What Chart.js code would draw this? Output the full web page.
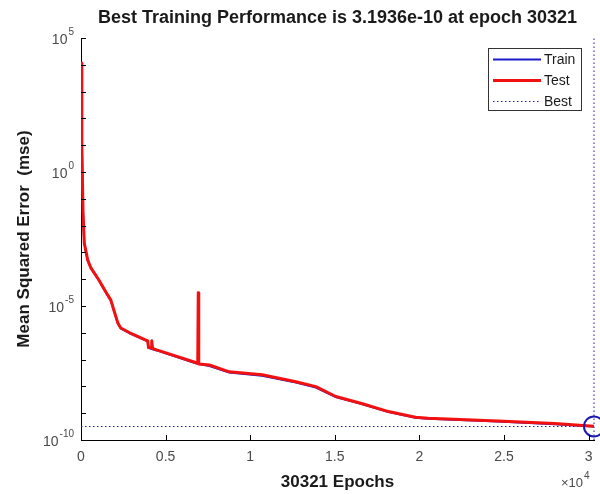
<!DOCTYPE html>
<html><head><meta charset="utf-8">
<script src="https://cdn.jsdelivr.net/npm/chart.js@4.4.1/dist/chart.umd.min.js"></script>
<style>html,body{margin:0;padding:0;background:#fff;} canvas{display:block;}</style>
</head><body>
<canvas id="c" width="600" height="494"></canvas>
<script>
const titleText = 'Best Training Performance is 3.1936e-10 at epoch 30321';
const xTitle = '30321 Epochs';
const yTitle = 'Mean Squared Error  (mse)';
const xMultiplier = '\u00d710';
const xMultiplierExp = '4';

const epochsTest = [0, 50, 120, 194, 394, 588, 1059, 1470, 1765, 1941, 2176, 2353, 2882, 3940, 3990, 4150, 4180, 4230, 4470, 6823, 6900, 6930, 6960, 7588, 8764, 10705, 12705, 13882, 15058, 16588, 18176, 19764, 20529, 24646, 28000, 30321];
const testMse = [1.17e4, 10, 3.2e-2, 2.24e-3, 5.25e-4, 2.63e-4, 9.33e-5, 3.31e-5, 1.66e-5, 7.08e-6, 2.34e-6, 1.51e-6, 1.0e-6, 5.0e-7, 2.8e-7, 2.8e-7, 5.0e-7, 2.6e-7, 2.3e-7, 7.6e-8, 7.2e-8, 3.1e-5, 6.9e-8, 6.3e-8, 3.5e-8, 2.7e-8, 1.5e-8, 9.8e-9, 4.2e-9, 2.3e-9, 1.15e-9, 7.1e-10, 6.5e-10, 5.1e-10, 4.1e-10, 3.24e-10];

const epochsTrain = [0, 50, 120, 194, 394, 588, 1059, 1470, 1765, 1941, 2176, 2353, 2882, 3940, 3990, 4470, 6823, 7588, 8764, 10705, 12705, 13882, 15058, 16588, 18176, 19764, 20529, 24646, 28000, 30321];
const trainMse = [1.17e4, 10, 3.16e-2, 2.19e-3, 5.0e-4, 2.51e-4, 8.91e-5, 3.16e-5, 1.58e-5, 6.76e-6, 2.24e-6, 1.45e-6, 9.5e-7, 4.8e-7, 2.7e-7, 2.2e-7, 7.1e-8, 5.8e-8, 3.3e-8, 2.5e-8, 1.4e-8, 9.1e-9, 4.0e-9, 2.2e-9, 1.1e-9, 6.8e-10, 6.2e-10, 4.9e-10, 3.9e-10, 3.1936e-10];

const bestEpoch = 30321;
const bestPerf = 3.1936e-10;

const xTickValues = [0, 5000, 10000, 15000, 20000, 25000, 30000];
const xTickLabels = ['0', '0.5', '1', '1.5', '2', '2.5', '3'];
const yTickExponents = [-10, -9, -8, -7, -6, -5, -4, -3, -2, -1, 0, 1, 2, 3, 4, 5];
const yLabelExponents = [-10, -5, 0, 5];
const legendLabels = ['Train', 'Test', 'Best'];

const C_TRAIN = '#1c1cc8';
const C_TEST = '#f21010';
const C_BEST = '#1a1ab0';
const C_TICK = '#4a4a4a';
const FONT = '"Liberation Sans", Arial, Helvetica, sans-serif';

const toXY = (xs, ys) => xs.map((x, i) => ({x: x, y: ys[i]}));

const decorPlugin = {
  id: 'decor',
  afterDraw(chart) {
    const ctx = chart.ctx;
    const ca = chart.chartArea;
    const xs = chart.scales.x, ys = chart.scales.y;
    ctx.save();
    ctx.strokeStyle = '#000';
    ctx.lineWidth = 1;
    ctx.beginPath();
    yTickExponents.forEach(e => {
      const py = Math.round(ys.getPixelForValue(Math.pow(10, e))) + 0.5;
      ctx.moveTo(ca.left, py); ctx.lineTo(ca.left + 5, py);
    });
    xTickValues.forEach(v => {
      const px = Math.round(xs.getPixelForValue(v)) + 0.5;
      ctx.moveTo(px, ca.bottom); ctx.lineTo(px, ca.bottom - 5);
    });
    ctx.stroke();

    ctx.fillStyle = C_TICK;
    ctx.textBaseline = 'middle';
    yLabelExponents.forEach(e => {
      const py = ys.getPixelForValue(Math.pow(10, e));
      const exp = String(e);
      ctx.font = '10px ' + FONT;
      const ew = ctx.measureText(exp).width;
      ctx.textAlign = 'right';
      const right = ca.left - 7;
      ctx.fillText(exp, right, py - 6);
      ctx.font = '14px ' + FONT;
      ctx.fillText('10', right - ew - 1, py + 2);
    });

    ctx.textAlign = 'center';
    ctx.font = '14px ' + FONT;
    xTickValues.forEach((v, i) => {
      ctx.fillText(xTickLabels[i], xs.getPixelForValue(v), ca.bottom + 17);
    });

    ctx.textAlign = 'left';
    ctx.font = '13px ' + FONT;
    ctx.fillText(xMultiplier, 561, 483);
    const mw = ctx.measureText(xMultiplier).width;
    ctx.font = '10px ' + FONT;
    ctx.fillText(xMultiplierExp, 561 + mw + 1, 476);

    ctx.fillStyle = '#1a1a1a';
    ctx.textAlign = 'center';
    ctx.font = 'bold 18px ' + FONT;
    ctx.fillText(titleText, (ca.left + ca.right) / 2, 18);
    ctx.font = 'bold 17px ' + FONT;
    ctx.fillText(xTitle, (ca.left + ca.right) / 2, 482);
    ctx.save();
    ctx.translate(24, (ca.top + ca.bottom) / 2);
    ctx.rotate(-Math.PI / 2);
    ctx.font = 'bold 17px ' + FONT;
    ctx.fillText(yTitle, 0, 0);
    ctx.restore();

    const lx = 488, ly = 48, lw = 93, lh = 62;
    ctx.fillStyle = '#fff';
    ctx.fillRect(lx, ly, lw, lh);
    ctx.strokeStyle = '#333';
    ctx.lineWidth = 1;
    ctx.strokeRect(lx + 0.5, ly + 0.5, lw, lh);
    const rows = [
      {label: legendLabels[0], color: C_TRAIN, width: 2, dash: []},
      {label: legendLabels[1], color: C_TEST, width: 3, dash: []},
      {label: legendLabels[2], color: C_BEST, width: 1, dash: [1.5, 2.5]}
    ];
    rows.forEach((r, i) => {
      const yy = ly + 11 + i * 21;
      ctx.strokeStyle = r.color;
      ctx.lineWidth = r.width;
      ctx.setLineDash(r.dash);
      ctx.beginPath();
      ctx.moveTo(493, yy + 0.5); ctx.lineTo(541, yy + 0.5);
      ctx.stroke();
      ctx.setLineDash([]);
      ctx.fillStyle = '#1a1a1a';
      ctx.textAlign = 'left';
      ctx.font = '14px ' + FONT;
      ctx.fillText(r.label, 544, yy + 1);
    });
    ctx.restore();
  }
};

new Chart(document.getElementById('c'), {
  type: 'line',
  data: {
    datasets: [
      {label: 'Test', data: toXY(epochsTest, testMse), borderColor: C_TEST, borderWidth: 3, pointRadius: 0, tension: 0, order: 0, borderJoinStyle: 'round'},
      {label: 'Train', data: toXY(epochsTrain, trainMse), borderColor: C_TRAIN, borderWidth: 2, pointRadius: 0, tension: 0, order: 1},
      {label: 'Best', data: [{x: 0, y: bestPerf}, {x: bestEpoch, y: bestPerf}], borderColor: C_BEST, borderWidth: 1, borderDash: [1.5, 2.5], pointRadius: 0, order: 2},
      {label: 'BestV', data: [{x: bestEpoch, y: 1e-10}, {x: bestEpoch, y: 1e5}], borderColor: C_BEST, borderWidth: 1, borderDash: [1.5, 2.5], pointRadius: 0, order: 3, clip: false},
      {label: 'BestPt', data: [{x: bestEpoch, y: bestPerf}], showLine: false, pointRadius: 10, pointBorderWidth: 2, pointBorderColor: C_BEST, pointBackgroundColor: 'rgba(0,0,0,0)', order: -1, clip: false}
    ]
  },
  options: {
    responsive: false,
    animation: false,
    devicePixelRatio: 1,
    layout: {autoPadding: false, padding: {top: 38, right: 6, left: 0, bottom: 0}},
    plugins: {legend: {display: false}, tooltip: {enabled: false}, title: {display: false}},
    scales: {
      x: {
        type: 'linear', min: 0, max: bestEpoch,
        afterBuildTicks: s => { s.ticks = xTickValues.map(v => ({value: v})); },
        afterFit: s => { s.height = 54; },
        ticks: {display: false},
        grid: {display: false},
        border: {display: true, color: '#000', width: 1}
      },
      y: {
        type: 'logarithmic', min: 1e-10, max: 1e5,
        afterBuildTicks: s => { s.ticks = yTickExponents.map(e => ({value: Math.pow(10, e)})); },
        afterFit: s => { s.width = 81; },
        ticks: {display: false},
        grid: {display: false},
        border: {display: true, color: '#000', width: 1}
      }
    }
  },
  plugins: [decorPlugin]
});
</script>
</body></html>
